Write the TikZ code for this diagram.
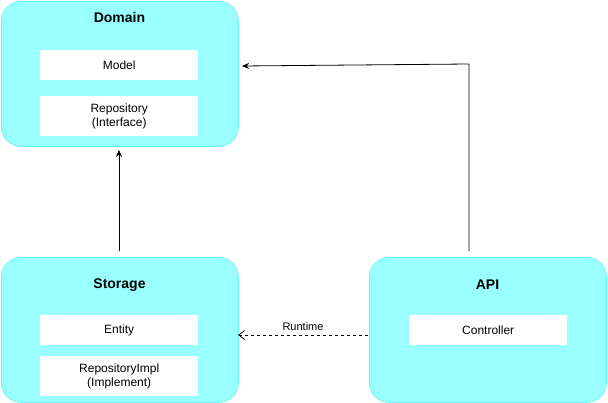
\documentclass[tikz,border=0pt]{standalone}
\usepackage{fontspec}
\setmainfont{Liberation Sans}
\usetikzlibrary{arrows.meta}
\definecolor{layerfill}{HTML}{99FFFF}
\definecolor{layerdraw}{HTML}{66F5F5}
\tikzset{
  layer/.style={draw=layerdraw, fill=layerfill, rounded corners=20pt, line width=0.8pt, minimum width=237pt, minimum height=145pt, anchor=north west},
  title/.style={font=\fontsize{14}{16}\selectfont\bfseries},
  item/.style={fill=white, minimum width=158pt, text width=150pt, align=center, anchor=north west, inner sep=0pt, font=\fontsize{12}{14.5}\selectfont},
  conn/.style={line width=0.8pt, -{Stealth[length=7pt,width=6pt]}},
}
\begin{document}
\begin{tikzpicture}[x=1pt,y=-1pt]
\useasboundingbox (0,0) rectangle (608,403);
% Domain
\node[layer] (domain) at (1,1) {};
\node[title] (domaint) at (119.5,17) {Domain};
\node[item, minimum height=30pt] (model) at (40,50) {Model};
\node[item, minimum height=40pt] (repo) at (40,96) {Repository\\(Interface)};
% Storage
\node[layer] (storage) at (1,257) {};
\node[title] (storaget) at (119.5,285) {Storage};
\node[item, minimum height=30pt] (entity) at (40,315) {Entity};
\node[item, minimum height=40pt] (impl) at (40,356) {RepositoryImpl\\(Implement)};
% API
\node[layer] (api) at (369,257) {};
\node[title] (apit) at (487.5,285) {API};
\node[item, minimum height=30pt] (ctrl) at (409,315) {Controller};
% connectors
\coordinate (domR) at (242,66);
\coordinate (domB) at (119,150);
\coordinate (stoT) at (119,251);
\coordinate (apiT) at (469,251);
\coordinate (corner) at (469,64);
\draw[conn] (stoT) -- (domB);
\draw[conn] (apiT) -- (corner) -- (domR);
\coordinate (apiL) at (368,335);
\coordinate (stoR) at (238,335);
\draw[line width=0.8pt, dashed, -{Straight Barb[length=6pt,width=9pt]}] (apiL) -- node[above=1pt, font=\fontsize{11}{13}\selectfont] (rt) {Runtime} (stoR);
\end{tikzpicture}
\end{document}
